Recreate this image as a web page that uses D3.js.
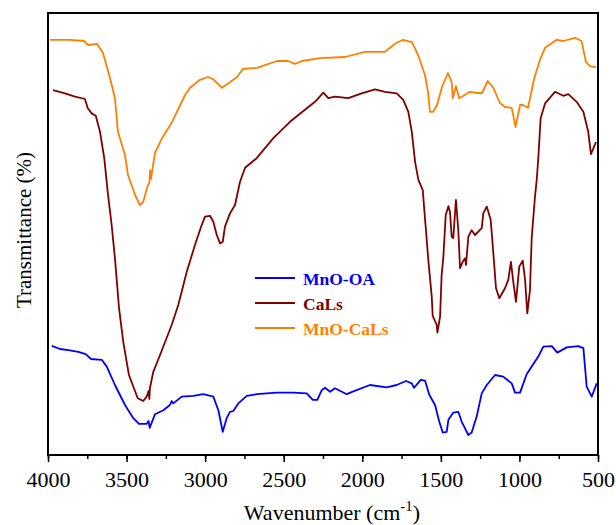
<!DOCTYPE html>
<html>
<head>
<meta charset="utf-8">
<script src="https://cdn.jsdelivr.net/npm/d3@7"></script>
<style>
  body { margin: 0; background: #fff; }
</style>
</head>
<body>
<script>
// FTIR spectra, wavenumber (cm-1) vs transmittance (arbitrary, stacked)
var seriesNames = ["MnO-OA", "CaLs", "MnO-CaLs"];
var seriesColors = ["#0000ff", "#800000", "#ff8000"];
var xTicks = [4000, 3500, 3000, 2500, 2000, 1500, 1000, 500];

var mnoOA = [
  [3976,27.3],[3924,26.5],[3871,26.2],[3807,25.8],[3760,25.2],[3726,24],[3658,23.8],[3626,22.1],
  [3574,17.5],[3510,12.5],[3457,9.2],[3421,7.8],[3372,7.8],[3360,8.5],[3353,6.8],[3319,10.2],
  [3266,11.2],[3224,12.5],[3213,13.5],[3203,12.9],[3149,14.6],[3075,14.8],[3012,15.2],[2948,14.6],
  [2916,11.2],[2888,5.8],[2863,9.2],[2842,10.8],[2821,11],[2789,12.9],[2735,14.8],[2672,15.2],
  [2545,15.6],[2439,15.6],[2354,15.4],[2315,13.8],[2286,13.8],[2258,16.2],[2237,16.8],[2205,15.8],
  [2174,16.7],[2099,15.2],[2057,15.9],[1951,17.5],[1845,16.9],[1781,17.5],[1722,18.5],[1685,17.9],
  [1671,16.8],[1628,18.8],[1601,18.6],[1573,15],[1537,12.5],[1510,8.3],[1488,5.6],[1463,5.8],
  [1452,8.8],[1421,10.6],[1389,10.8],[1367,8.3],[1325,5],[1304,5.6],[1272,9.6],[1240,15.4],
  [1208,17.5],[1155,20],[1103,19.6],[1049,17.9],[1028,15.6],[996,15.6],[954,20.2],[880,24.6],
  [848,27.1],[794,27.2],[759,25.6],[699,26.9],[625,27.2],[593,26.7],[572,17.1],[540,14.6],[508,17.9]
];

var caLs = [
  [3968,91.2],[3892,90.4],[3828,89.6],[3765,89],[3747,86.7],[3722,85.4],[3696,84.8],[3669,80.8],
  [3642,74.2],[3620,65.8],[3595,57.5],[3574,49.2],[3548,36.7],[3521,28.3],[3485,20],[3429,14.2],
  [3394,13.5],[3372,14.6],[3360,16],[3355,14],[3351,16.8],[3330,20.8],[3287,25],[3213,32.5],
  [3171,37.5],[3117,45.8],[3065,52.5],[3022,57.5],[3001,59.6],[2969,59.8],[2948,58.3],[2926,55],
  [2905,52.9],[2888,53.3],[2874,57.1],[2842,60.4],[2810,62.5],[2778,68.3],[2746,71.8],[2672,74.2],
  [2566,79.2],[2460,83.3],[2375,86],[2301,88.3],[2248,90.6],[2216,89.2],[2174,89.6],[2089,89.2],
  [2004,90.4],[1919,91.4],[1855,90.8],[1781,90.4],[1739,88.8],[1707,85.8],[1685,80.8],[1664,73.3],
  [1643,68.8],[1615,66.2],[1607,62.1],[1594,55.8],[1580,48.8],[1558,39.6],[1552,34.8],[1526,32.5],
  [1522,30.6],[1505,34.6],[1495,45],[1484,49.6],[1469,60],[1452,62.2],[1442,60.8],[1431,54.6],
  [1421,54.2],[1404,63.8],[1389,56.2],[1378,46.7],[1361,48.3],[1346,49.2],[1340,47.5],[1325,54.6],
  [1304,56.2],[1283,55],[1240,56.7],[1230,60.4],[1208,62.1],[1183,58.8],[1166,50.4],[1149,41.7],
  [1128,39.2],[1092,41.7],[1071,43.8],[1054,48.3],[1039,43.3],[1022,38.3],[1001,47.1],[979,48.6],
  [964,43.8],[950,35.4],[933,41.2],[922,54.2],[901,64.6],[890,68.8],[880,74.2],[865,84.2],
  [837,87.9],[774,90.8],[721,89.8],[689,90.2],[636,88.3],[593,85.8],[562,80.8],[545,75.2],[513,78.2]
];

var mnoCaLs = [
  [3987,103.8],[3860,103.8],[3771,103.5],[3745,102.5],[3688,102.8],[3650,100.5],[3605,94.2],[3574,89.2],
  [3555,80.8],[3510,75],[3491,70],[3446,65],[3415,62.5],[3395,63.2],[3364,67.5],[3355,68],
  [3350,71.2],[3345,69],[3319,75.5],[3275,79.2],[3211,83.2],[3128,90],[3096,91.8],[3033,93.8],
  [2982,94.5],[2950,94],[2893,91.8],[2842,93.2],[2797,94.5],[2759,96.5],[2670,96.8],[2543,98.5],
  [2473,98.5],[2428,97.8],[2384,98.5],[2269,99.2],[2110,99.5],[1983,100.8],[1855,100.8],[1792,102.8],
  [1741,103.8],[1684,103.2],[1645,100],[1601,95],[1582,90.8],[1569,85.8],[1550,85.8],[1524,87.5],
  [1493,92],[1455,95.5],[1431,93.2],[1424,89.2],[1404,92.2],[1383,89.2],[1315,90.8],[1270,90.5],
  [1238,90.5],[1202,93.5],[1166,91.8],[1124,88],[1092,87],[1049,86.8],[1025,82],[996,87.5],
  [979,87.5],[945,86.8],[907,94],[869,98.8],[837,101.8],[763,103.8],[721,103.5],[646,104.3],
  [605,103.5],[576,98.2],[551,97.2],[513,96.9]
];

var allSeries = [mnoOA, caLs, mnoCaLs];

var W = 616, H = 525;
var margin = {top: 13, right: 18, bottom: 70, left: 48};
var serif = '"Liberation Serif"';

var svg = d3.select("body").append("svg").attr("width", W).attr("height", H);

var x = d3.scaleLinear().domain([4000, 500]).range([margin.left, W - margin.right]);
var y = d3.scaleLinear().domain([0, 110.5]).range([H - margin.bottom, margin.top]);

var line = d3.line()
    .x(function(d){ return x(d[0]); })
    .y(function(d){ return y(d[1]); });

svg.selectAll("path.spec")
    .data(allSeries)
    .enter().append("path")
      .attr("class", "spec")
      .attr("d", line)
      .attr("fill", "none")
      .attr("stroke", function(d, i){ return seriesColors[i]; })
      .attr("stroke-width", 1.8)
      .attr("stroke-linejoin", "round");

// minor ticks
var xMinor = d3.axisBottom(x).tickValues(d3.range(4000, 499, -250)).tickSize(4).tickFormat("");
svg.append("g")
    .attr("transform", "translate(0," + (H - margin.bottom) + ")")
    .call(xMinor)
    .call(function(g){ g.select(".domain").remove(); })
    .selectAll("line").attr("stroke", "#000").attr("stroke-width", 1.5);

var xAxis = d3.axisBottom(x).tickValues(xTicks).tickSize(7).tickPadding(9).tickFormat(d3.format("d"));
var gx = svg.append("g")
    .attr("transform", "translate(0," + (H - margin.bottom) + ")")
    .call(xAxis);
gx.select(".domain").remove();
gx.selectAll("line").attr("stroke", "#000").attr("stroke-width", 1.5);
gx.selectAll("text")
    .style("font-family", serif)
    .style("font-size", "22px")
    .attr("fill", "#000");

// frame
svg.append("rect")
    .attr("x", margin.left)
    .attr("y", margin.top)
    .attr("width", W - margin.left - margin.right)
    .attr("height", H - margin.top - margin.bottom)
    .attr("fill", "none")
    .attr("stroke", "#000")
    .attr("stroke-width", 2);

// axis titles
var xt = svg.append("text")
    .attr("x", 332)
    .attr("y", 520)
    .attr("text-anchor", "middle")
    .style("font-family", serif)
    .style("font-size", "22px")
    .attr("fill", "#000")
    .text("Wavenumber (cm");
xt.append("tspan").attr("dy", -9).style("font-size", "15px").text("-1");
xt.append("tspan").attr("dy", 9).text(")");

svg.append("text")
    .attr("transform", "translate(31,230) rotate(-90)")
    .attr("text-anchor", "middle")
    .style("font-family", serif)
    .style("font-size", "21px")
    .attr("fill", "#000")
    .text("Transmittance (%)");

// legend
var legend = svg.selectAll("g.leg")
    .data(seriesNames)
    .enter().append("g")
      .attr("class", "leg")
      .attr("transform", function(d, i){ return "translate(255," + (278 + i * 25) + ")"; });
legend.append("line")
    .attr("x1", 0).attr("x2", 40)
    .attr("stroke", function(d, i){ return seriesColors[i]; })
    .attr("stroke-width", 2);
legend.append("text")
    .attr("x", 48)
    .attr("y", 7)
    .style("font-family", serif)
    .style("font-size", "17.5px")
    .style("font-weight", "bold")
    .attr("fill", function(d, i){ return seriesColors[i]; })
    .text(function(d){ return d; });
</script>
</body>
</html>
